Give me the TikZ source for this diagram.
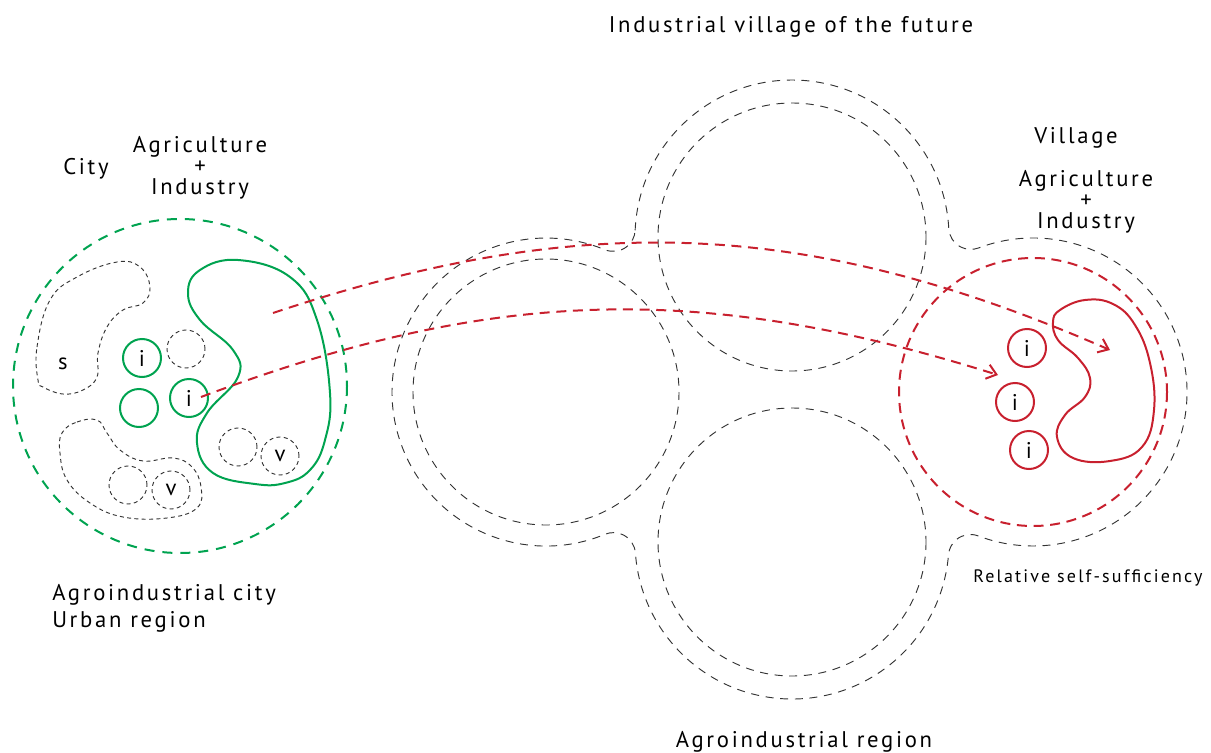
\documentclass[tikz,border=0pt]{standalone}
\usepackage{fontspec}
\setmainfont{PT Sans}[LetterSpace=12]
\usetikzlibrary{arrows.meta,positioning}
\definecolor{cityGreen}{RGB}{0,163,80}
\definecolor{villageRed}{RGB}{200,32,46}

\begin{document}
\begin{tikzpicture}[x=0.75pt,y=-0.75pt,>={Straight Barb[length=7pt,width=11pt]},
    label text/.style={font=\fontsize{17}{15.75}\selectfont,align=center,inner sep=0pt},
    small text/.style={font=\fontsize{13.5}{14}\selectfont,inner sep=0pt},
    region/.style={draw=black!80,line width=0.7pt,dash pattern=on 6pt off 5pt},
    dot ring/.style={circle,draw=black!80,line width=0.7pt,dash pattern=on 3pt off 2.5pt,
        minimum size=28.5pt,inner sep=0pt,font=\fontsize{17}{17}\selectfont},
    green ring/.style={circle,draw=cityGreen,line width=1.5pt,minimum size=28.5pt,
        inner sep=0pt,font=\fontsize{17}{17}\selectfont},
    red ring/.style={green ring,draw=villageRed},
    flow/.style={->,draw=villageRed,line width=1.5pt,dash pattern=on 7.5pt off 5pt}]

    \useasboundingbox (0,0) rectangle (1211,753);

    % Agroindustrial region
    \draw[region] (635.15,230.27)
        arc[start angle=182.46,end angle=356.92,radius=157]
        arc[start angle=176.92,end angle=69.28,radius=22]
        arc[start angle=249.28,end angle=470.83,radius=154]
        arc[start angle=290.83,end angle=184.64,radius=22]
        arc[start angle=4.64,end angle=175.97,radius=157]
        arc[start angle=355.97,end angle=247.47,radius=22]
        arc[start angle=67.47,end angle=292.43,radius=154]
        arc[start angle=112.43,end angle=2.46,radius=22] -- cycle;
    \draw[region] (792,237) circle[radius=134];
    \draw[region] (546,392) circle[radius=133];
    \draw[region] (792,542) circle[radius=134];

    % City
    \draw[cityGreen,line width=1.5pt,dash pattern=on 7.5pt off 6pt] (180,386) circle[radius=167];
    \draw[cityGreen,line width=1.5pt] plot[smooth cycle,tension=0.7] coordinates {
        (238,260) (290,277) (317,320) (330,393) (325,440) (310,470) (285,483) (255,484)
        (213,473) (197,443) (207,413) (238,377) (233,350) (200,320) (188,293) (200,270)};
    \draw[region,dash pattern=on 3pt off 2.5pt] plot[smooth cycle,tension=0.7] coordinates {
        (38,380) (37,347) (50,300) (77,277) (117,262) (140,267) (150,287) (143,303)
        (123,310) (107,327) (98,353) (97,377) (83,390) (63,394) (43,387)};
    \draw[region,dash pattern=on 3pt off 2.5pt] plot[smooth cycle,tension=0.7] coordinates {
        (62,433) (77,422) (97,420) (107,433) (120,450) (143,461) (173,458) (192,467)
        (201,487) (197,508) (167,518) (123,517) (90,503) (67,480) (60,453)};

    \node[green ring] (gi1) at (142,358) {i};
    \node[green ring] (g0) at (139,408) {};
    \node[green ring] (gi2) at (189,398) {i};
    \node[dot ring] (d1) at (186,349) {};
    \node[dot ring] (d2) at (238,447) {};
    \node[dot ring] (dv1) at (280,456) {v};
    \node[dot ring] (d3) at (128,485) {};
    \node[dot ring] (dv2) at (171,490) {v};
    \node[label text] (s) at (63,364) {s};

    % Village
    \draw[villageRed,line width=1.5pt,dash pattern=on 7.5pt off 5pt] (1033,392) circle[radius=134];
    \draw[villageRed,line width=1.5pt] plot[smooth cycle,tension=0.7] coordinates {
        (1060,310) (1085,300) (1113,304) (1135,325) (1150,363) (1154,410) (1142,447) (1110,461)
        (1073,458) (1057,437) (1065,415) (1085,397) (1090,378) (1078,358) (1058,340) (1053,322)};
    \node[red ring] (ri1) at (1027,348) {i};
    \node[red ring] (ri2) at (1015,402) {i};
    \node[red ring] (ri3) at (1029,450) {i};

    % Flows
    \coordinate (from1) at (273,313);
    \coordinate (from2) at (201,397);
    \coordinate (to1) at (1110,350);
    \coordinate (to2) at (998,375);
    \path (from1) edge[flow,bend left=21] (to1)
          (from2) edge[flow,bend left=19] (to2);

    % Labels
    \node[label text] (title) at (791,27) {Industrial village of the future};
    \node[label text] (cityname) at (86,169) {City};
    \node[label text] (cityagri) at (200,168) {Agriculture\\+\\Industry};
    \node[label text] (village) at (1076,138) {Village};
    \node[label text] (villagri) at (1086,202) {Agriculture\\+\\Industry};
    \node[small text] (selfsuff) at (1088,578) {Relative self-sufficiency};
    \node[label text,anchor=west] (acity) at (52,595) {Agroindustrial city};
    \node[label text,anchor=west] (urban) at (52,622) {Urban region};
    \node[label text] (region) at (804,742) {Agroindustrial region};

\end{tikzpicture}
\end{document}
